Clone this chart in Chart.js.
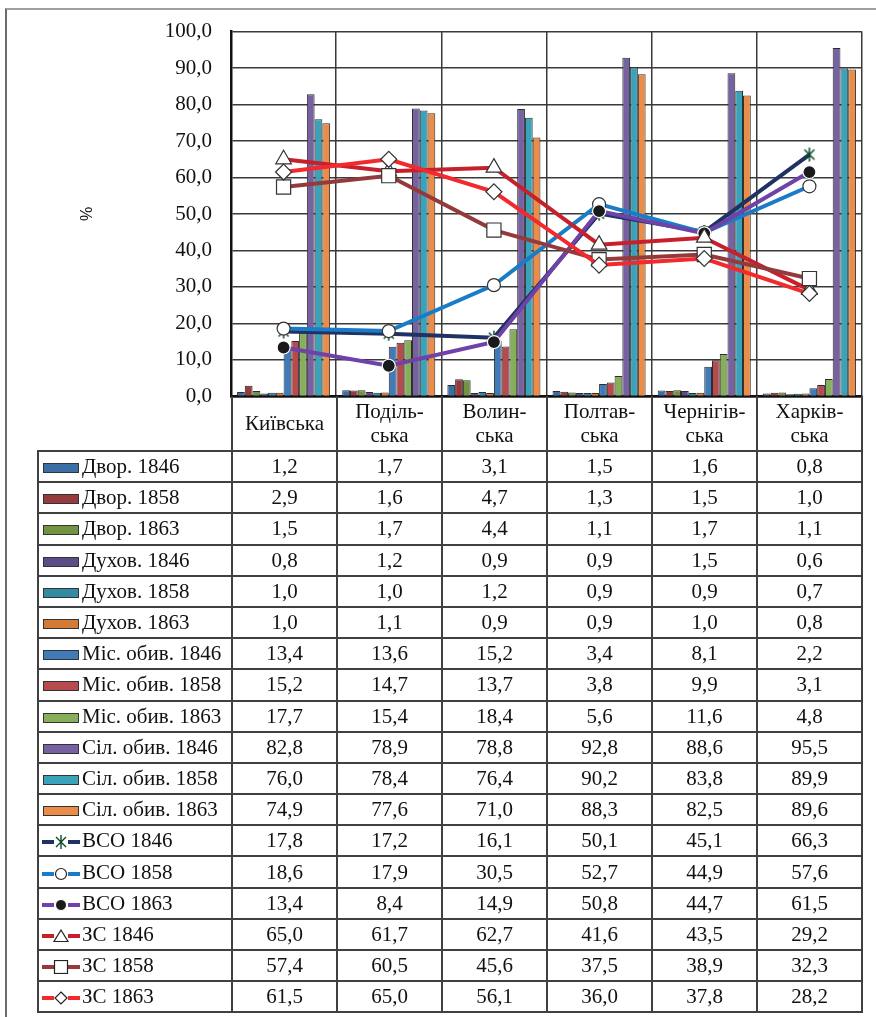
<!DOCTYPE html>
<html>
<head>
<meta charset="utf-8">
<script src="https://cdn.jsdelivr.net/npm/chart.js@4/dist/chart.umd.min.js"></script>
<style>
body { margin: 0; background: #fff; }
#page { position: relative; width: 876px; height: 1017px; overflow: hidden; }
#frame { position: absolute; left: 5px; top: 8px; right: -4px; bottom: -4px; border-top: 2px solid #a0a0a0; border-left: 2px solid #6c6c6c; }
#chartBox { position: absolute; left: 0; top: 0; width: 876px; height: 428px; }
#tbl { position: absolute; left: 37px; top: 396px; width: 826px; border-collapse: collapse; table-layout: fixed;
  font-family: "Liberation Serif", "Times New Roman", serif; font-size: 21px; color: #111; }
#tbl td, #tbl th { border: 2px solid #404040; padding: 0; text-align: center; font-weight: normal; }
#tbl thead th { border-top: none; height: 54px; line-height: 24px; }
#tbl thead th.blank { border-left: none; border-top: none; }
#tbl tbody tr { height: 31.2px; }
#tbl td.lab { text-align: left; padding-left: 3px; white-space: nowrap; }
#tbl td.lab svg { vertical-align: -2px; margin-right: 2px; }
</style>
</head>
<body>
<div id="page">
  <div id="frame"></div>
  <div id="chartBox"><canvas id="c"></canvas></div>
  <table id="tbl"></table>
</div>
<script>
// регіони (з переносами, як у підписах)
const regions = [['Київська'], ['Поділь-', 'ська'], ['Волин-', 'ська'], ['Полтав-', 'ська'], ['Чернігів-', 'ська'], ['Харків-', 'ська']];

// стовпчики
const dvor1846 = [1.2, 1.7, 3.1, 1.5, 1.6, 0.8];
const dvor1858 = [2.9, 1.6, 4.7, 1.3, 1.5, 1.0];
const dvor1863 = [1.5, 1.7, 4.4, 1.1, 1.7, 1.1];
const dukh1846 = [0.8, 1.2, 0.9, 0.9, 1.5, 0.6];
const dukh1858 = [1.0, 1.0, 1.2, 0.9, 0.9, 0.7];
const dukh1863 = [1.0, 1.1, 0.9, 0.9, 1.0, 0.8];
const mis1846 = [13.4, 13.6, 15.2, 3.4, 8.1, 2.2];
const mis1858 = [15.2, 14.7, 13.7, 3.8, 9.9, 3.1];
const mis1863 = [17.7, 15.4, 18.4, 5.6, 11.6, 4.8];
const sil1846 = [82.8, 78.9, 78.8, 92.8, 88.6, 95.5];
const sil1858 = [76.0, 78.4, 76.4, 90.2, 83.8, 89.9];
const sil1863 = [74.9, 77.6, 71.0, 88.3, 82.5, 89.6];

// лінії
const vso1846 = [17.8, 17.2, 16.1, 50.1, 45.1, 66.3];
const vso1858 = [18.6, 17.9, 30.5, 52.7, 44.9, 57.6];
const vso1863 = [13.4, 8.4, 14.9, 50.8, 44.7, 61.5];
const zs1846 = [65.0, 61.7, 62.7, 41.6, 43.5, 29.2];
const zs1858 = [57.4, 60.5, 45.6, 37.5, 38.9, 32.3];
const zs1863 = [61.5, 65.0, 56.1, 36.0, 37.8, 28.2];

const yTicks = [0, 10, 20, 30, 40, 50, 60, 70, 80, 90, 100];

const fmt = v => v.toFixed(1).replace('.', ',');

// маркер-зірочка (X з вертикальною рискою)
function starMarker() {
  const c = document.createElement('canvas');
  c.width = 16; c.height = 16;
  const g = c.getContext('2d');
  g.strokeStyle = '#0e4a2a';
  g.lineWidth = 1.5;
  g.beginPath();
  g.moveTo(3, 3); g.lineTo(13, 13);
  g.moveTo(13, 3); g.lineTo(3, 13);
  g.moveTo(8, 1); g.lineTo(8, 15);
  g.stroke();
  return c;
}

const bars = [
  { label: 'Двор. 1846', data: dvor1846, color: '#3c6ea6' },
  { label: 'Двор. 1858', data: dvor1858, color: '#963a3e' },
  { label: 'Двор. 1863', data: dvor1863, color: '#719342' },
  { label: 'Духов. 1846', data: dukh1846, color: '#5d4c86' },
  { label: 'Духов. 1858', data: dukh1858, color: '#318ba2' },
  { label: 'Духов. 1863', data: dukh1863, color: '#d57a34' },
  { label: 'Міс. обив. 1846', data: mis1846, color: '#417ab8' },
  { label: 'Міс. обив. 1858', data: mis1858, color: '#b64a4c' },
  { label: 'Міс. обив. 1863', data: mis1863, color: '#87ae5b' },
  { label: 'Сіл. обив. 1846', data: sil1846, color: '#7662a0' },
  { label: 'Сіл. обив. 1858', data: sil1858, color: '#3ba3b9' },
  { label: 'Сіл. обив. 1863', data: sil1863, color: '#e98d49' }
];

const lines = [
  { label: 'ВСО 1846', data: vso1846, color: '#1f3263', marker: 'star' },
  { label: 'ВСО 1858', data: vso1858, color: '#1a7cc6', marker: 'circleW' },
  { label: 'ВСО 1863', data: vso1863, color: '#6e42a6', marker: 'circleB' },
  { label: 'ЗС 1846', data: zs1846, color: '#c8202a', marker: 'triangle' },
  { label: 'ЗС 1858', data: zs1858, color: '#953a3c', marker: 'rect' },
  { label: 'ЗС 1863', data: zs1863, color: '#f2292d', marker: 'rectRot' }
];

const star = starMarker();

function pointOpts(m) {
  switch (m) {
    case 'star': return { pointStyle: star, pointRadius: 8, pointBackgroundColor: '#fff', pointBorderColor: '#0e4a2a' };
    case 'circleW': return { pointStyle: 'circle', pointRadius: 6.5, pointBackgroundColor: '#fff', pointBorderColor: '#333', pointBorderWidth: 1.2 };
    case 'circleB': return { pointStyle: 'circle', pointRadius: 6.5, pointBackgroundColor: '#1a1a1a', pointBorderColor: '#fff', pointBorderWidth: 1.2 };
    case 'triangle': return { pointStyle: 'triangle', pointRadius: 9, pointBackgroundColor: '#fff', pointBorderColor: '#333', pointBorderWidth: 1.2 };
    case 'rect': return { pointStyle: 'rect', pointRadius: 10, pointBackgroundColor: '#fff', pointBorderColor: '#333', pointBorderWidth: 1.2 };
    case 'rectRot': return { pointStyle: 'rectRot', pointRadius: 8, pointBackgroundColor: '#fff', pointBorderColor: '#333', pointBorderWidth: 1.2 };
  }
}

const datasets = [];
lines.forEach((s, i) => {
  datasets.push(Object.assign({
    type: 'line',
    label: s.label,
    data: s.data,
    borderColor: s.color,
    borderWidth: 4,
    order: -i,
    tension: 0
  }, pointOpts(s.marker)));
});
bars.forEach(s => {
  datasets.push({
    type: 'bar',
    label: s.label,
    data: s.data,
    backgroundColor: s.color,
    borderColor: '#2e2e2e',
    borderWidth: 1,
    categoryPercentage: 0.885,
    barPercentage: 1.0,
    order: 10
  });
});

new Chart(document.getElementById('c'), {
  type: 'bar',
  data: { labels: regions.map(r => r.join('')), datasets: datasets },
  options: {
    responsive: true,
    maintainAspectRatio: false,
    animation: false,
    events: [],
    layout: { padding: { left: 0, top: 27, right: 14, bottom: 4 } },
    plugins: { legend: { display: false }, tooltip: { enabled: false } },
    scales: {
      x: {
        offset: true,
        grid: { offset: true, drawTicks: false, color: '#3a3a3a', lineWidth: 1.5 },
        border: { color: '#111', width: 2.5 },
        ticks: { display: false },
        afterFit: s => { s.height = 0; }
      },
      y: {
        min: 0,
        max: 100,
        afterBuildTicks: s => { s.ticks = yTicks.map(v => ({ value: v })); },
        grid: { drawTicks: false, color: '#3a3a3a', lineWidth: 1.5 },
        border: { color: '#111', width: 2.5 },
        ticks: {
          padding: 19,
          color: '#111',
          font: { family: '"Liberation Serif", "Times New Roman", serif', size: 21 },
          callback: v => fmt(v)
        },
        title: {
          display: true,
          text: '%',
          color: '#111',
          font: { family: '"Liberation Sans", Arial, sans-serif', size: 16 },
          padding: { top: 78, bottom: 0 }
        },
        afterFit: s => { s.width = 231; }
      }
    }
  }
});

// таблиця даних
function barKey(color) {
  return '<svg width="38" height="14"><rect x="1.5" y="2.5" width="35" height="9" fill="' + color + '" stroke="#333" stroke-width="1"/></svg>';
}
function lineKey(color, m) {
  let mk = '';
  if (m === 'star') mk = '<path d="M14 2 L24 12 M24 2 L14 12 M19 0 L19 14" stroke="#0e4a2a" stroke-width="1.4"/>';
  if (m === 'circleW') mk = '<circle cx="19" cy="7" r="5.5" fill="#fff" stroke="#222" stroke-width="1.2"/>';
  if (m === 'circleB') mk = '<circle cx="19" cy="7" r="5.5" fill="#1a1a1a" stroke="#fff" stroke-width="1"/>';
  if (m === 'triangle') mk = '<path d="M19 1 L26 12.5 L12 12.5 Z" fill="#fff" stroke="#222" stroke-width="1.2"/>';
  if (m === 'rect') mk = '<rect x="12.5" y="0.5" width="13" height="13" fill="#fff" stroke="#222" stroke-width="1.2"/>';
  if (m === 'rectRot') mk = '<path d="M19 1 L25 7 L19 13 L13 7 Z" fill="#fff" stroke="#222" stroke-width="1.2"/>';
  return '<svg width="38" height="14"><line x1="0" y1="7" x2="12" y2="7" stroke="' + color + '" stroke-width="4"/>' +
    '<line x1="26" y1="7" x2="38" y2="7" stroke="' + color + '" stroke-width="4"/>' + mk + '</svg>';
}

let html = '<colgroup><col style="width:194px">' + regions.map(() => '<col>').join('') + '</colgroup>';
html += '<thead><tr><th class="blank"></th>' + regions.map(r => '<th>' + r.join('<br>') + '</th>').join('') + '</tr></thead><tbody>';
bars.forEach(s => {
  html += '<tr><td class="lab">' + barKey(s.color) + s.label + '</td>' + s.data.map(v => '<td>' + fmt(v) + '</td>').join('') + '</tr>';
});
lines.forEach(s => {
  html += '<tr><td class="lab">' + lineKey(s.color, s.marker) + s.label + '</td>' + s.data.map(v => '<td>' + fmt(v) + '</td>').join('') + '</tr>';
});
html += '</tbody>';
document.getElementById('tbl').innerHTML = html;
</script>
</body>
</html>
